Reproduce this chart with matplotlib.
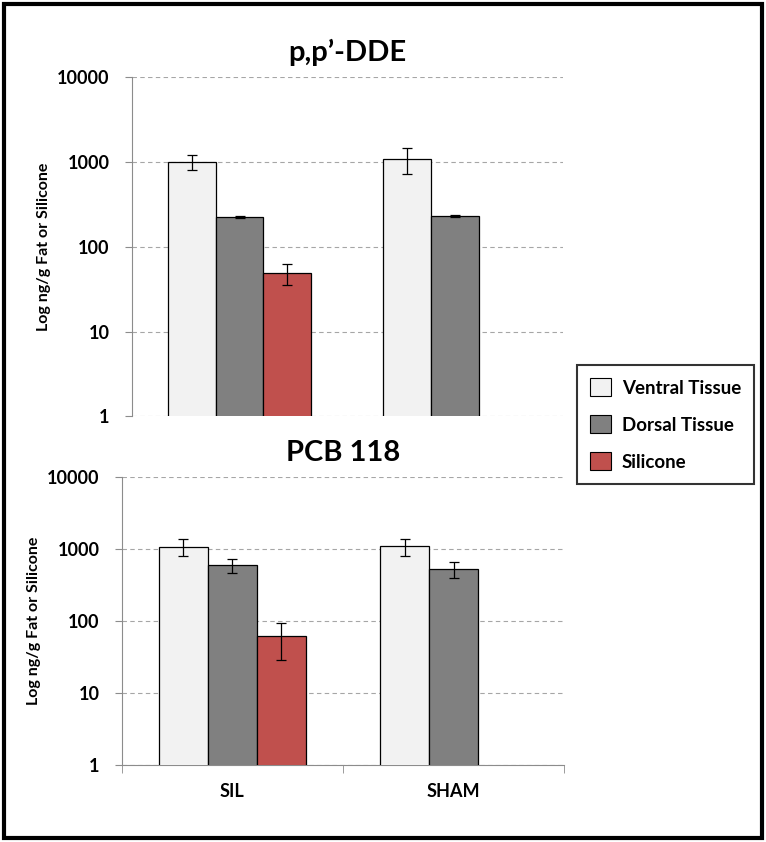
import matplotlib
matplotlib.use("Agg")
import matplotlib.pyplot as plt
import numpy as np
from matplotlib.patches import Patch, Rectangle

plt.rcParams["font.family"] = ["Lato", "DejaVu Sans"]
plt.rcParams["font.weight"] = "bold"

groups = ["SIL", "SHAM"]
series = ["Ventral Tissue", "Dorsal Tissue", "Silicone"]
colors = ["#F2F2F2", "#808080", "#C0504D"]

# p,p'-DDE (ng/g), NaN = no bar
dde_values = [[1000, 1100], [223, 229], [49, np.nan]]
dde_errors = [[200, 380], [5, 6], [14, np.nan]]

# PCB 118 (ng/g)
pcb_values = [[1090, 1100], [600, 528], [62, np.nan]]
pcb_errors = [[280, 300], [130, 130], [33, np.nan]]

ytick_vals = [1, 10, 100, 1000, 10000]
ytick_labels = ["1", "10", "100", "1000", "10000"]

W, H = 766, 842
BAR_W = 0.222
GRID_COLOR = "#A6A6A6"
SPINE_COLOR = "#8C8C8C"


def draw_panel(ax, values, errors, title, show_xaxis):
    x = np.arange(len(groups))
    for i, (vals, errs) in enumerate(zip(values, errors)):
        pos = x + (i - 1) * BAR_W
        ax.bar(pos, vals, width=BAR_W, color=colors[i], edgecolor="black",
               linewidth=0.9, zorder=3)
        ax.errorbar(pos, vals, yerr=errs, fmt="none", ecolor="black",
                    elinewidth=0.9, capsize=3.5, capthick=0.9, zorder=4)

    ax.set_yscale("log")
    ax.set_ylim(1, 10000)
    ax.set_xlim(-0.5, 1.5)
    ax.set_yticks(ytick_vals)
    ax.set_yticklabels(ytick_labels)
    ax.yaxis.set_minor_locator(matplotlib.ticker.NullLocator())
    ax.grid(axis="y", color=GRID_COLOR, linestyle=(0, (4, 3)), linewidth=0.8, zorder=0)
    ax.tick_params(axis="y", length=5, color=SPINE_COLOR, pad=11, labelsize=13)

    for side in ["top", "right"]:
        ax.spines[side].set_visible(False)
    ax.spines["left"].set_color(SPINE_COLOR)

    if show_xaxis:
        ax.spines["bottom"].set_color(SPINE_COLOR)
        ax.set_xticks(x)
        ax.set_xticklabels(groups)
        ax.tick_params(axis="x", length=0, pad=13, labelsize=13)
        ax.set_xticks([-0.5, 0.5, 1.5], minor=True)
        ax.tick_params(axis="x", which="minor", length=6, color=SPINE_COLOR)
    else:
        ax.spines["bottom"].set_visible(False)
        ax.set_xticks([])

    ax.set_ylabel("Log ng/g Fat or Silicone", fontsize=11.5, fontweight="bold", labelpad=4)
    ax.set_title(title, fontsize=21, fontweight="bold", pad=12)


def main():
    fig = plt.figure(figsize=(W / 100, H / 100), dpi=100)

    ax_top = fig.add_axes([131.7 / W, 1 - 416.3 / H, 431.3 / W, 339 / H])
    ax_bot = fig.add_axes([121.7 / W, 1 - 765.3 / H, 442.6 / W, 288 / H])

    draw_panel(ax_top, dde_values, dde_errors, "p,p\u2019-DDE", show_xaxis=False)
    draw_panel(ax_bot, pcb_values, pcb_errors, "PCB 118", show_xaxis=True)

    handles = [Patch(facecolor=c, edgecolor="black", linewidth=0.8) for c in colors]
    leg = fig.legend(handles, series, loc="upper left",
                     bbox_to_anchor=(577 / W, 1 - 365 / H),
                     prop={"size": 13.5, "weight": "bold"},
                     handlelength=1.1, handleheight=1.1, handletextpad=0.6,
                     labelspacing=1.0, borderpad=0.7, borderaxespad=0,
                     fancybox=False, frameon=True)
    leg.get_frame().set_edgecolor("black")
    leg.get_frame().set_linewidth(1.5)

    fig.patches.append(Rectangle((4 / W, 4 / H), 1 - 8 / W, 1 - 8 / H,
                                 transform=fig.transFigure, fill=False,
                                 edgecolor="black", linewidth=3))

    fig.savefig("out.png", dpi=100)
    plt.close(fig)


if __name__ == "__main__":
    main()
